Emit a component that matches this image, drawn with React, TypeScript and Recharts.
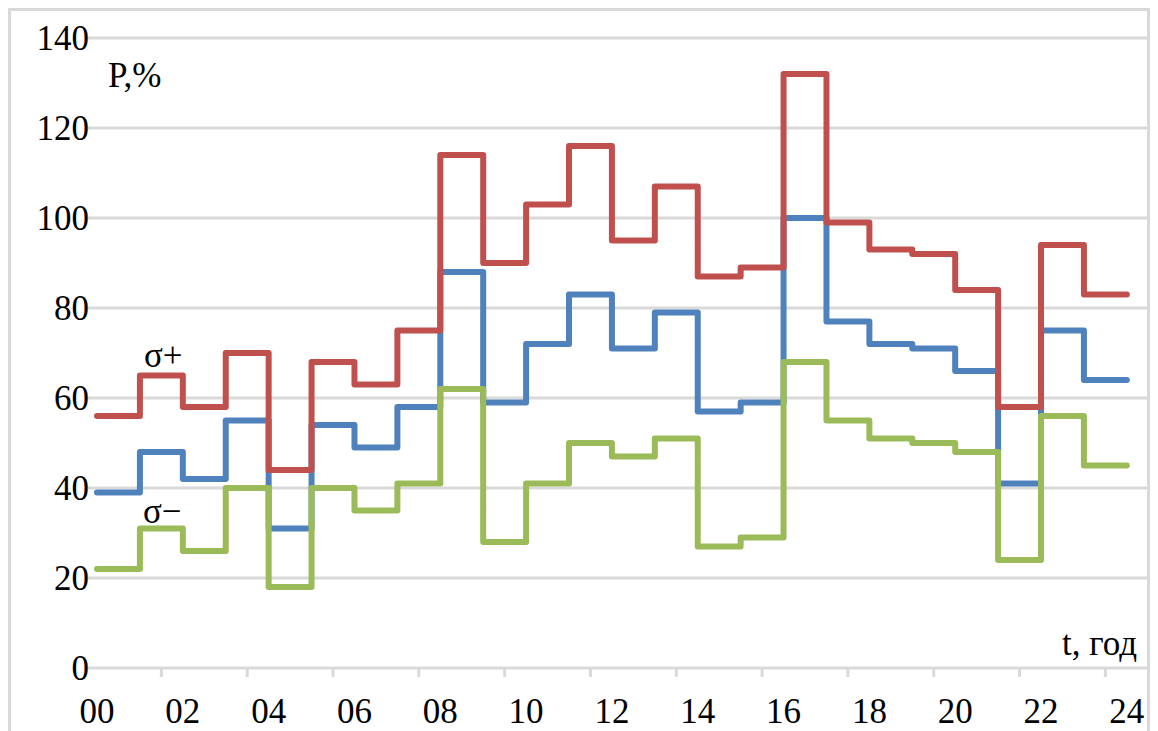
import React from 'react';
import { LineChart, Line, XAxis, YAxis, CartesianGrid } from 'recharts';

// hourly step values, hour i -> i+1
const sigmaPlus = [56, 65, 58, 70, 44, 68, 63, 75, 114, 90, 103, 116, 95, 107, 87, 89, 132, 99, 93, 92, 84, 58, 94, 83];
const average = [39, 48, 42, 55, 31, 54, 49, 58, 88, 59, 72, 83, 71, 79, 57, 59, 100, 77, 72, 71, 66, 41, 75, 64];
const sigmaMinus = [22, 31, 26, 40, 18, 40, 35, 41, 62, 28, 41, 50, 47, 51, 27, 29, 68, 55, 51, 50, 48, 24, 56, 45];

const labelHours = [0, 2, 4, 6, 8, 10, 12, 14, 16, 18, 20, 22, 24];
const tickLabels = ['00', '02', '04', '06', '08', '10', '12', '14', '16', '18', '20', '22', '24'];
const markHours = [1.5, 3.5, 5.5, 7.5, 9.5, 11.5, 13.5, 15.5, 17.5, 19.5, 21.5, 23.5];
const yTicks = [0, 20, 40, 60, 80, 100, 120, 140];

const FONT = '"Liberation Serif", "Times New Roman", serif';
const GRID = '#d9d9d9';

// last point repeats the final value so the step reaches 24:00
const data = Array.from({ length: 25 }, (_, i) => {
  const k = Math.min(i, 23);
  return { t: i, avg: average[k], plus: sigmaPlus[k], minus: sigmaMinus[k] };
});

const XTick = (props: any) => {
  const { x, y, payload } = props;
  const idx = labelHours.indexOf(payload.value);
  if (idx >= 0) {
    return (
      <text x={x} y={y + 55} textAnchor="middle" fontFamily={FONT} fontSize={35} fill="#000">
        {tickLabels[idx]}
      </text>
    );
  }
  return <line x1={x} y1={y} x2={x} y2={y + 9} stroke={GRID} strokeWidth={3} />;
};

export default function App() {
  return (
    <div
      style={{
        position: 'relative',
        width: 1136,
        height: 724,
        border: `3px solid ${GRID}`,
        background: '#fff'
      }}
    >
      <LineChart width={1136} height={720} data={data} margin={{ top: 27, right: 0, bottom: 0, left: 0 }}>
        <CartesianGrid vertical={false} stroke={GRID} strokeWidth={3} />
        <XAxis
          dataKey="t"
          type="number"
          domain={[-0.21, 24.47]}
          ticks={[...labelHours, ...markHours].sort((a, b) => a - b)}
          interval={0}
          height={63}
          axisLine={false}
          tickLine={false}
          tickSize={0}
          tickMargin={0}
          tick={<XTick />}
        />
        <YAxis
          domain={[0, 140]}
          ticks={yTicks}
          width={77}
          axisLine={false}
          tickLine={false}
          tickSize={0}
          tickMargin={0}
          tick={{ fontFamily: FONT, fontSize: 35, fill: '#000', dx: 1 }}
        />
        <Line type="stepAfter" dataKey="avg" stroke="#4F81BD" strokeWidth={6} dot={false} strokeLinecap="round" strokeLinejoin="round" isAnimationActive={false} />
        <Line type="stepAfter" dataKey="plus" stroke="#C0504D" strokeWidth={6} dot={false} strokeLinecap="round" strokeLinejoin="round" isAnimationActive={false} />
        <Line type="stepAfter" dataKey="minus" stroke="#9BBB59" strokeWidth={6} dot={false} strokeLinecap="round" strokeLinejoin="round" isAnimationActive={false} />
      </LineChart>
      <svg
        width={1136}
        height={720}
        style={{ position: 'absolute', left: 0, top: 0, pointerEvents: 'none' }}
        fontFamily={FONT}
        fontSize={35}
        fill="#000"
      >
        <text x={97} y={76}>P,%</text>
        <text x={1126} y={644} textAnchor="end">t, год</text>
        <text x={133} y={356}>σ+</text>
        <text x={132} y={512}>σ−</text>
      </svg>
    </div>
  );
}
